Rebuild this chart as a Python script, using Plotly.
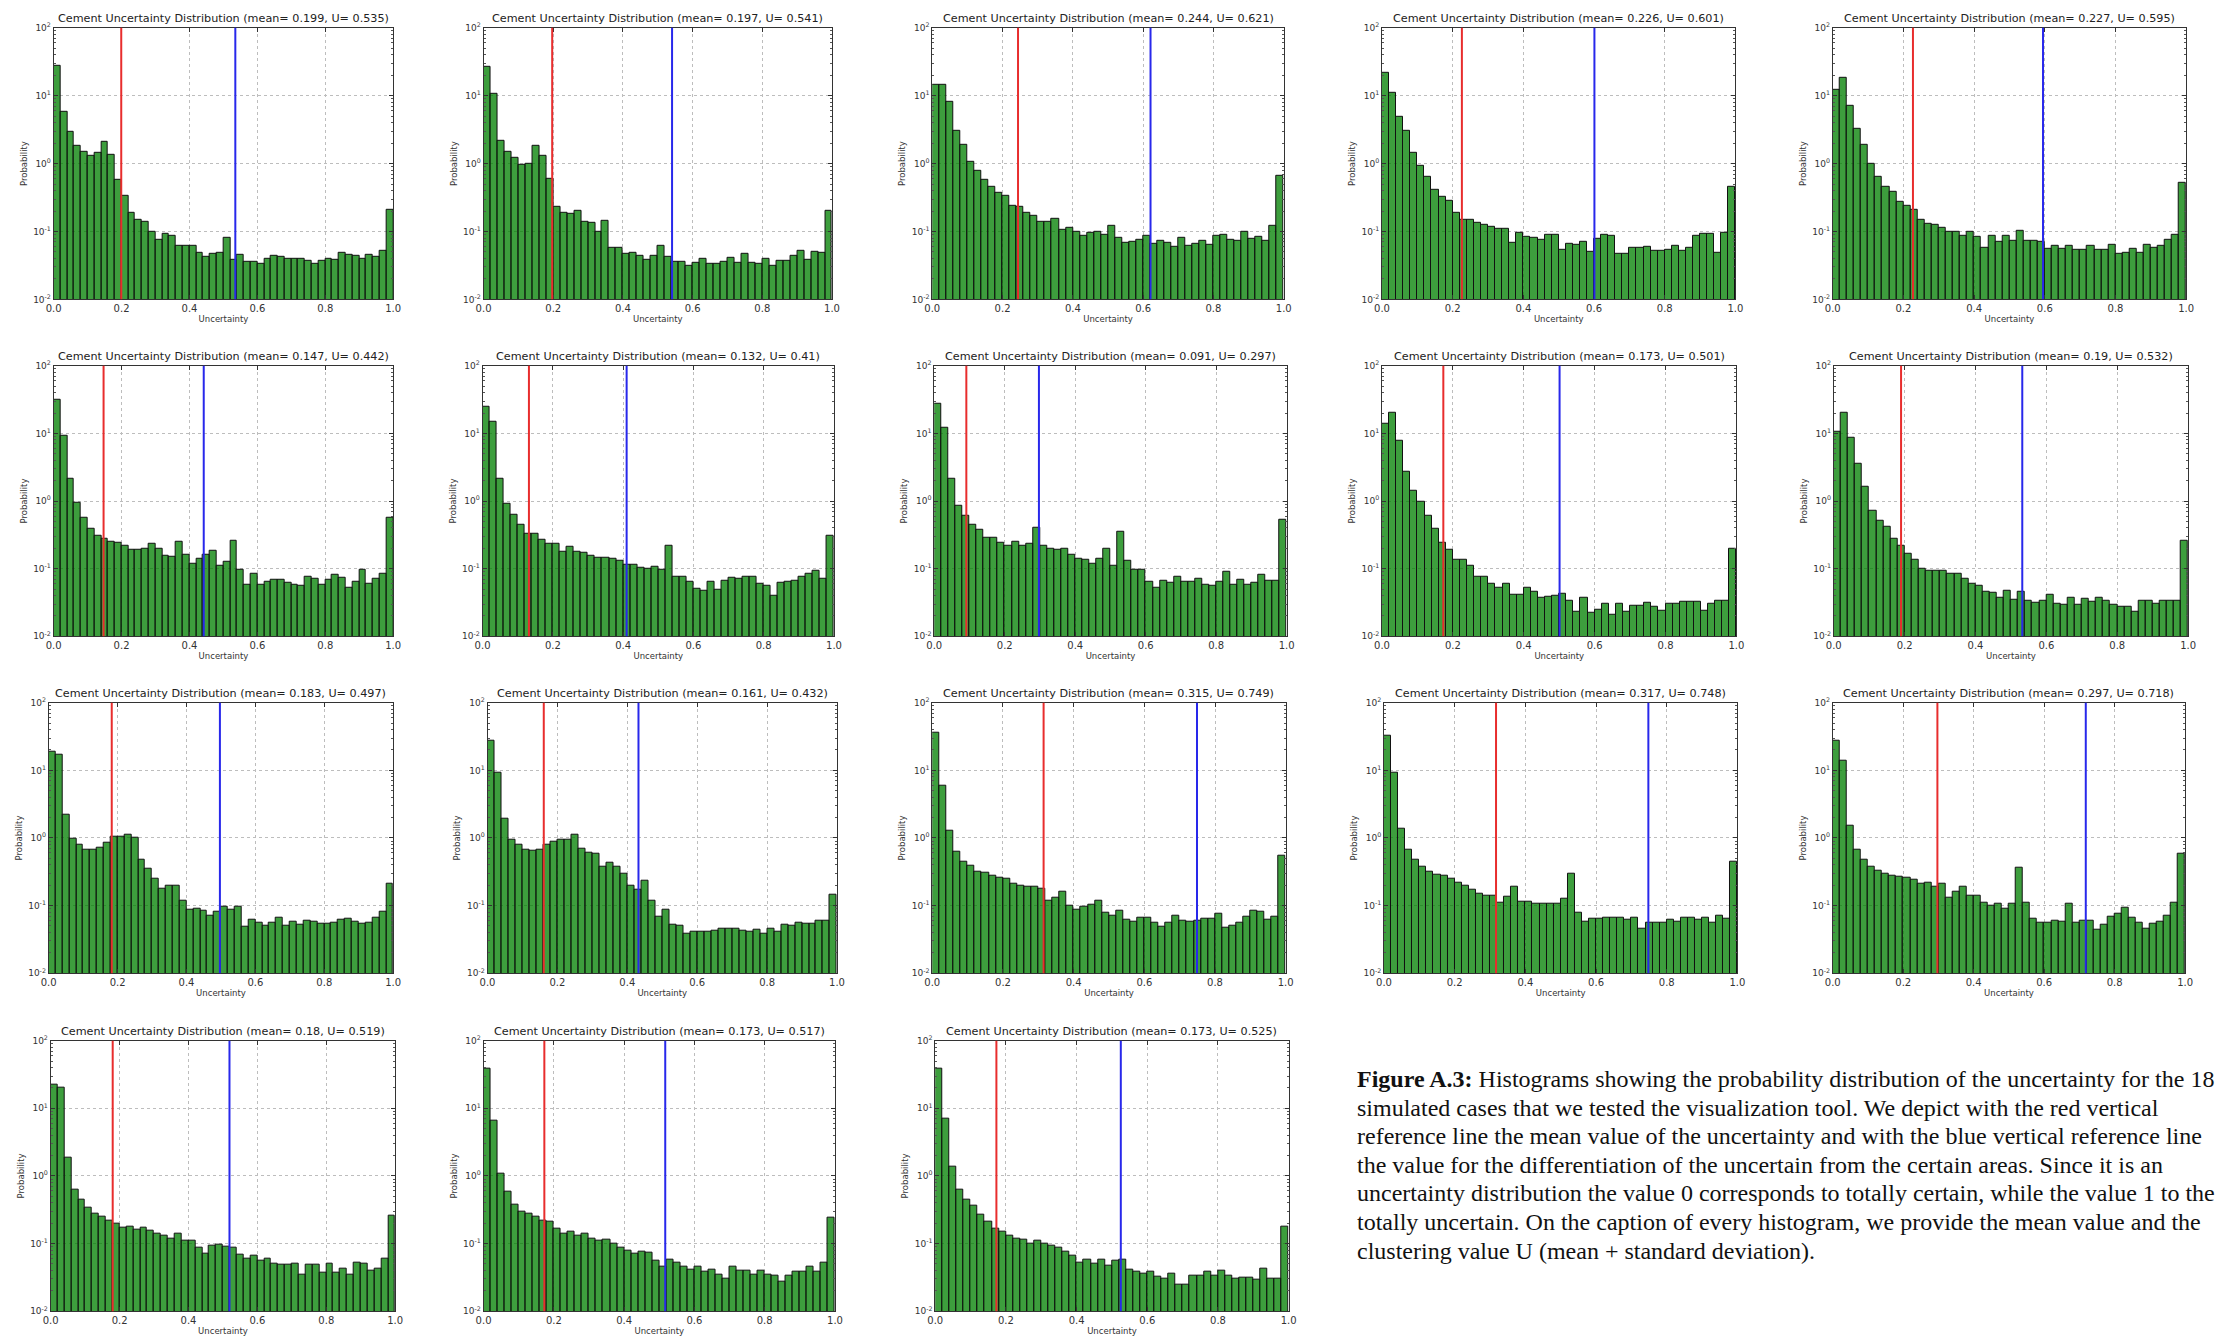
import numpy as np
import plotly.graph_objects as go

# ---- histogram data: 50 bins over [0, 1], probability density per bin ----
N_BINS = 50
BIN_WIDTH = 1.0 / N_BINS

mean_values = [0.199, 0.197, 0.244, 0.226, 0.227,
               0.147, 0.132, 0.091, 0.173, 0.19,
               0.183, 0.161, 0.315, 0.317, 0.297,
               0.18, 0.173, 0.173]
u_values = [0.535, 0.541, 0.621, 0.601, 0.595,
            0.442, 0.41, 0.297, 0.501, 0.532,
            0.497, 0.432, 0.749, 0.748, 0.718,
            0.519, 0.517, 0.525]

hist_01 = [28, 5.8, 2.9, 1.8, 1.5, 1.3, 1.45, 2.1, 1.35, 0.58,
           0.34, 0.19, 0.15, 0.14, 0.1, 0.075, 0.093, 0.085, 0.062, 0.062,
           0.062, 0.048, 0.043, 0.047, 0.049, 0.082, 0.038, 0.046, 0.036, 0.036,
           0.033, 0.039, 0.044, 0.042, 0.039, 0.039, 0.04, 0.037, 0.033, 0.037,
           0.039, 0.038, 0.049, 0.046, 0.044, 0.039, 0.045, 0.042, 0.052, 0.21]
hist_02 = [27, 10.5, 2.2, 1.5, 1.2, 0.97, 0.98, 1.8, 1.3, 0.6,
           0.23, 0.19, 0.18, 0.2, 0.14, 0.135, 0.1, 0.145, 0.057, 0.057,
           0.047, 0.049, 0.044, 0.038, 0.044, 0.062, 0.042, 0.036, 0.036, 0.031,
           0.035, 0.039, 0.033, 0.033, 0.036, 0.041, 0.035, 0.047, 0.035, 0.033,
           0.039, 0.031, 0.037, 0.037, 0.044, 0.052, 0.038, 0.051, 0.048, 0.2]
hist_03 = [14.5, 14.5, 8, 3.0, 1.9, 1.05, 0.78, 0.57, 0.45, 0.37,
           0.34, 0.24, 0.23, 0.19, 0.17, 0.14, 0.14, 0.155, 0.105, 0.115,
           0.1, 0.085, 0.095, 0.1, 0.088, 0.12, 0.08, 0.067, 0.071, 0.075,
           0.085, 0.066, 0.074, 0.069, 0.06, 0.08, 0.062, 0.066, 0.074, 0.063,
           0.087, 0.09, 0.076, 0.072, 0.1, 0.079, 0.083, 0.074, 0.12, 0.65]
hist_04 = [22, 11, 4.9, 3.0, 1.46, 0.92, 0.63, 0.41, 0.32, 0.28,
           0.19, 0.15, 0.148, 0.135, 0.126, 0.117, 0.108, 0.108, 0.068, 0.097,
           0.083, 0.08, 0.076, 0.088, 0.088, 0.053, 0.066, 0.064, 0.07, 0.05,
           0.078, 0.09, 0.087, 0.047, 0.047, 0.058, 0.058, 0.06, 0.052, 0.052,
           0.053, 0.062, 0.052, 0.058, 0.085, 0.092, 0.092, 0.048, 0.095, 0.45]
hist_05 = [12.3, 18.6, 7, 3.3, 1.9, 1.0, 0.63, 0.45, 0.38, 0.27,
           0.24, 0.21, 0.15, 0.13, 0.125, 0.115, 0.1, 0.1, 0.085, 0.1,
           0.083, 0.058, 0.085, 0.07, 0.085, 0.072, 0.102, 0.072, 0.072, 0.07,
           0.055, 0.062, 0.056, 0.061, 0.054, 0.054, 0.062, 0.054, 0.054, 0.063,
           0.047, 0.048, 0.055, 0.048, 0.063, 0.058, 0.062, 0.075, 0.09, 0.52]
hist_06 = [31, 9.1, 2.1, 0.93, 0.57, 0.39, 0.31, 0.28, 0.25, 0.24,
           0.22, 0.19, 0.19, 0.2, 0.235, 0.2, 0.155, 0.15, 0.25, 0.16,
           0.12, 0.14, 0.16, 0.185, 0.11, 0.125, 0.26, 0.097, 0.058, 0.085,
           0.058, 0.065, 0.068, 0.068, 0.062, 0.058, 0.055, 0.077, 0.07, 0.058,
           0.068, 0.08, 0.074, 0.053, 0.064, 0.097, 0.06, 0.07, 0.083, 0.56]
hist_07 = [24.5, 15, 2.1, 0.92, 0.62, 0.45, 0.33, 0.33, 0.27, 0.23,
           0.23, 0.18, 0.21, 0.175, 0.17, 0.155, 0.147, 0.145, 0.14, 0.13,
           0.115, 0.113, 0.103, 0.1, 0.108, 0.095, 0.22, 0.075, 0.075, 0.065,
           0.05, 0.047, 0.065, 0.048, 0.067, 0.074, 0.072, 0.075, 0.077, 0.06,
           0.055, 0.04, 0.062, 0.065, 0.067, 0.075, 0.085, 0.092, 0.072, 0.31]
hist_08 = [27, 12, 2.15, 0.86, 0.6, 0.44, 0.37, 0.29, 0.29, 0.24,
           0.22, 0.25, 0.22, 0.23, 0.4, 0.22, 0.2, 0.19, 0.195, 0.16,
           0.14, 0.135, 0.12, 0.14, 0.195, 0.11, 0.35, 0.13, 0.095, 0.095,
           0.065, 0.053, 0.067, 0.062, 0.075, 0.063, 0.063, 0.07, 0.058, 0.055,
           0.065, 0.09, 0.058, 0.068, 0.058, 0.062, 0.08, 0.067, 0.066, 0.52]
hist_09 = [14, 20, 7.7, 2.7, 1.4, 0.99, 0.61, 0.39, 0.24, 0.19,
           0.135, 0.135, 0.11, 0.075, 0.075, 0.06, 0.052, 0.06, 0.041, 0.041,
           0.052, 0.046, 0.037, 0.039, 0.04, 0.043, 0.033, 0.023, 0.037, 0.022,
           0.025, 0.03, 0.021, 0.03, 0.023, 0.028, 0.028, 0.031, 0.027, 0.024,
           0.03, 0.03, 0.032, 0.032, 0.032, 0.024, 0.03, 0.033, 0.034, 0.2]
hist_10 = [10.5, 20, 8.5, 3.6, 1.6, 0.72, 0.51, 0.41, 0.28, 0.22,
           0.165, 0.135, 0.1, 0.093, 0.093, 0.093, 0.085, 0.083, 0.072, 0.06,
           0.055, 0.046, 0.044, 0.037, 0.047, 0.035, 0.046, 0.033, 0.031, 0.034,
           0.041, 0.03, 0.029, 0.037, 0.029, 0.036, 0.032, 0.037, 0.033, 0.029,
           0.027, 0.027, 0.023, 0.034, 0.033, 0.03, 0.033, 0.033, 0.034, 0.26]
hist_11 = [19, 17, 2.2, 0.98, 0.8, 0.66, 0.66, 0.72, 0.85, 1.04,
           1.04, 1.1, 1.0, 0.47, 0.35, 0.25, 0.18, 0.2, 0.2, 0.12,
           0.087, 0.09, 0.085, 0.07, 0.08, 0.095, 0.087, 0.095, 0.048, 0.062,
           0.055, 0.05, 0.055, 0.066, 0.05, 0.058, 0.052, 0.06, 0.058, 0.054,
           0.054, 0.055, 0.062, 0.064, 0.057, 0.054, 0.055, 0.067, 0.08, 0.21]
hist_12 = [27, 9.3, 1.9, 0.95, 0.8, 0.66, 0.64, 0.66, 0.8, 0.88,
           0.95, 0.95, 1.1, 0.7, 0.6, 0.58, 0.38, 0.43, 0.37, 0.3,
           0.2, 0.17, 0.23, 0.12, 0.068, 0.087, 0.052, 0.05, 0.039, 0.041,
           0.041, 0.041, 0.043, 0.046, 0.046, 0.046, 0.043, 0.041, 0.044, 0.039,
           0.046, 0.041, 0.053, 0.051, 0.056, 0.054, 0.054, 0.059, 0.06, 0.145]
hist_13 = [36, 6.0, 1.3, 0.63, 0.45, 0.39, 0.32, 0.31, 0.28, 0.26,
           0.25, 0.21, 0.2, 0.19, 0.19, 0.18, 0.12, 0.13, 0.16, 0.1,
           0.087, 0.098, 0.103, 0.12, 0.078, 0.07, 0.083, 0.062, 0.057, 0.067,
           0.067, 0.056, 0.048, 0.055, 0.07, 0.06, 0.058, 0.059, 0.065, 0.064,
           0.075, 0.047, 0.05, 0.055, 0.068, 0.085, 0.08, 0.062, 0.068, 0.54]
hist_14 = [32, 9.3, 1.35, 0.66, 0.47, 0.37, 0.32, 0.29, 0.28, 0.25,
           0.22, 0.2, 0.174, 0.152, 0.14, 0.14, 0.11, 0.135, 0.19, 0.113,
           0.113, 0.105, 0.108, 0.105, 0.108, 0.125, 0.3, 0.078, 0.058, 0.065,
           0.065, 0.066, 0.066, 0.066, 0.062, 0.066, 0.045, 0.055, 0.055, 0.055,
           0.062, 0.058, 0.066, 0.066, 0.062, 0.066, 0.055, 0.07, 0.065, 0.44]
hist_15 = [27, 14, 1.5, 0.66, 0.48, 0.37, 0.33, 0.3, 0.28, 0.27,
           0.26, 0.24, 0.21, 0.22, 0.19, 0.21, 0.13, 0.16, 0.19, 0.14,
           0.14, 0.11, 0.1, 0.107, 0.09, 0.107, 0.36, 0.11, 0.065, 0.055,
           0.056, 0.06, 0.057, 0.107, 0.056, 0.06, 0.06, 0.044, 0.052, 0.068,
           0.076, 0.092, 0.067, 0.055, 0.046, 0.054, 0.057, 0.07, 0.112, 0.58]
hist_16 = [22, 20, 1.85, 0.63, 0.45, 0.34, 0.28, 0.25, 0.22, 0.2,
           0.17, 0.18, 0.16, 0.17, 0.155, 0.14, 0.13, 0.12, 0.14, 0.11,
           0.11, 0.087, 0.07, 0.092, 0.095, 0.09, 0.088, 0.068, 0.06, 0.067,
           0.055, 0.06, 0.05, 0.049, 0.049, 0.05, 0.035, 0.049, 0.049, 0.037,
           0.05, 0.037, 0.042, 0.035, 0.052, 0.05, 0.04, 0.042, 0.06, 0.26]
hist_17 = [38, 6.6, 1.07, 0.58, 0.38, 0.3, 0.28, 0.25, 0.22, 0.21,
           0.165, 0.14, 0.15, 0.13, 0.14, 0.12, 0.11, 0.115, 0.1, 0.088,
           0.078, 0.07, 0.075, 0.074, 0.056, 0.045, 0.058, 0.052, 0.045, 0.041,
           0.046, 0.039, 0.041, 0.035, 0.03, 0.045, 0.04, 0.04, 0.035, 0.04,
           0.035, 0.033, 0.027, 0.033, 0.039, 0.039, 0.045, 0.038, 0.052, 0.24]
hist_18 = [38, 7, 1.35, 0.63, 0.45, 0.36, 0.27, 0.21, 0.165, 0.15,
           0.13, 0.12, 0.115, 0.1, 0.11, 0.1, 0.093, 0.086, 0.077, 0.067,
           0.052, 0.058, 0.05, 0.058, 0.047, 0.056, 0.058, 0.041, 0.038, 0.036,
           0.038, 0.032, 0.03, 0.036, 0.025, 0.025, 0.033, 0.033, 0.038, 0.033,
           0.04, 0.033, 0.03, 0.031, 0.031, 0.029, 0.042, 0.03, 0.03, 0.18]

histograms = [hist_01, hist_02, hist_03, hist_04, hist_05, hist_06,
              hist_07, hist_08, hist_09, hist_10, hist_11, hist_12,
              hist_13, hist_14, hist_15, hist_16, hist_17, hist_18]

x_tick_vals = [0.0, 0.2, 0.4, 0.6, 0.8, 1.0]
x_tick_text = ["0.0", "0.2", "0.4", "0.6", "0.8", "1.0"]
y_tick_vals = [0.01, 0.1, 1, 10, 100]
y_tick_text = ["10<sup>-2</sup>", "10<sup>-1</sup>", "10<sup>0</sup>",
               "10<sup>1</sup>", "10<sup>2</sup>"]

caption_lines = [
    "<b>Figure A.3:</b> Histograms showing the probability distribution of the uncertainty for the 18",
    "simulated cases that we tested the visualization tool. We depict with the red vertical",
    "reference line the mean value of the uncertainty and with the blue vertical reference line",
    "the value for the differentiation of the uncertain from the certain areas. Since it is an",
    "uncertainty distribution the value 0 corresponds to totally certain, while the value 1 to the",
    "totally uncertain. On the caption of every histogram, we provide the mean value and the",
    "clustering value U (mean + standard deviation).",
]

# ---- page geometry (pixels) ----
W, H = 2216, 1341
row_tops = [21, 362, 702, 1043]
row_bottoms = [295, 635, 975, 1316]
col_spans = [
    [(46, 388), (479, 830), (931, 1285), (1384, 1740), (1838, 2194)],
    [(46, 388), (478, 832), (933, 1288), (1384, 1741), (1839, 2196)],
    [(41, 388), (483, 835), (931, 1287), (1386, 1742), (1838, 2193)],
    [(43, 390), (479, 833), (934, 1290)],
]

BAR_FILL = "rgba(0,128,0,0.76)"
MEAN_COLOR = "rgb(232,45,45)"
U_COLOR = "rgb(40,40,235)"
FONT = "DejaVu Sans"

centers = (np.arange(N_BINS) + 0.5) * BIN_WIDTH
minor_y = [m * 10.0 ** e for e in range(-2, 2) for m in range(2, 10)]

fig = go.Figure()
layout = dict(
    width=W, height=H,
    margin=dict(l=0, r=0, t=0, b=0),
    paper_bgcolor="white", plot_bgcolor="white",
    showlegend=False, bargap=0,
    font=dict(family=FONT, size=10, color="#222"),
)
shapes = []
annotations = []

panels = [(r, c) for r in range(4) for c in range(len(col_spans[r]))]
for i, (r, c) in enumerate(panels):
    n = i + 1
    xs = "" if n == 1 else str(n)
    left, right = col_spans[r][c]
    top, bottom = row_tops[r], row_bottoms[r]

    fig.add_trace(go.Bar(
        x=centers, y=histograms[i], width=BIN_WIDTH,
        marker=dict(color=BAR_FILL, line=dict(color="#111", width=1)),
        xaxis="x" + xs, yaxis="y" + xs, hoverinfo="x+y",
    ))

    layout["xaxis" + xs] = dict(
        domain=[left / W, right / W], anchor="y" + xs, range=[0, 1],
        tickmode="array", tickvals=x_tick_vals, ticktext=x_tick_text,
        ticks="inside", ticklen=4, tickcolor="#333",
        showline=True, linecolor="#333", linewidth=1, mirror="ticks",
        showgrid=True, gridcolor="#bdbdbd", griddash="dot", gridwidth=1,
        zeroline=False, tickfont=dict(family=FONT, size=10, color="#333"),
        title=dict(text="Uncertainty", font=dict(family=FONT, size=8.5, color="#333"),
                   standoff=2),
    )
    layout["yaxis" + xs] = dict(
        domain=[1 - bottom / H, 1 - top / H], anchor="x" + xs,
        type="log", range=[-2, 2],
        tickmode="array", tickvals=y_tick_vals, ticktext=y_tick_text,
        ticks="inside", ticklen=4, tickcolor="#333",
        minor=dict(tickmode="array", tickvals=minor_y, ticks="inside",
                   ticklen=2, tickcolor="#555", showgrid=False),
        showline=True, linecolor="#333", linewidth=1, mirror="ticks",
        showgrid=True, gridcolor="#bdbdbd", griddash="dot", gridwidth=1,
        zeroline=False, tickfont=dict(family=FONT, size=9, color="#333"),
        title=dict(text="Probability", font=dict(family=FONT, size=8.5, color="#333"),
                   standoff=4),
    )

    # mean (red) and clustering value U (blue) reference lines
    for val, col in ((mean_values[i], MEAN_COLOR), (u_values[i], U_COLOR)):
        shapes.append(dict(
            type="line", xref="x" + xs, yref="y" + xs + " domain",
            x0=val, x1=val, y0=0, y1=1,
            line=dict(color=col, width=2),
        ))

    annotations.append(dict(
        xref="paper", yref="paper",
        x=(left + right) / 2 / W, y=1 - (top - 1) / H,
        xanchor="center", yanchor="bottom", showarrow=False,
        text=f"Cement Uncertainty Distribution (mean= {mean_values[i]}, U= {u_values[i]})",
        font=dict(family=FONT, size=11.2, color="#222"),
    ))

# caption block in the free lower-right corner
cap_x = 1357
cap_y0 = 1082
cap_step = 28.8
for k, line in enumerate(caption_lines):
    annotations.append(dict(
        xref="paper", yref="paper",
        x=cap_x / W, y=1 - (cap_y0 + k * cap_step) / H,
        xanchor="left", yanchor="middle", showarrow=False, align="left",
        text=line,
        font=dict(family="Liberation Serif", size=24, color="#111"),
    ))

layout["shapes"] = shapes
layout["annotations"] = annotations
fig.update_layout(**layout)
fig.write_html("out.html")
